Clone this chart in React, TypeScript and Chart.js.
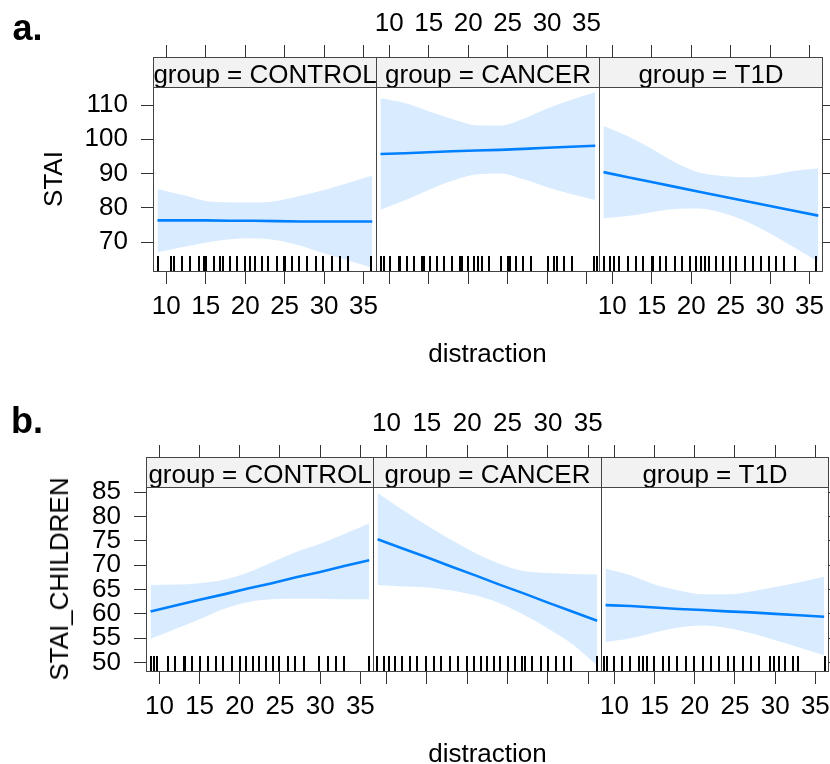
import React, { useEffect, useRef } from "react";
import { Chart, registerables } from "chart.js";

Chart.register(...registerables);

// ---------------- data ----------------
const GROUPS = ["CONTROL", "CANCER", "T1D"];
const X_TICKS = [10, 15, 20, 25, 30, 35];
const X_LIMITS = [8.33, 36.7];
const STAI_TICKS = [70, 80, 90, 100, 110];
const STAI_LIMITS = [61.24, 115.26];
const CHILD_TICKS = [50, 55, 60, 65, 70, 75, 80, 85];
const CHILD_LIMITS = [48.07, 86.03];

// distraction values at which the effect curves are evaluated
const DISTRACTION = [8.9, 12, 15, 18, 21, 24, 27, 30, 33, 36.1];

// a. STAI
const staiControlFit = [76.3, 76.3, 76.3, 76.2, 76.2, 76.1, 76.0, 76.0, 76.0, 76.0];
const staiControlLower = [67.0, 68.5, 69.8, 70.8, 71.1, 70.5, 68.9, 66.7, 64.6, 62.5];
const staiControlUpper = [85.5, 83.8, 82.0, 81.6, 81.5, 82.0, 83.5, 85.2, 87.2, 89.4];

const staiCancerFit = [95.7, 95.9, 96.2, 96.5, 96.7, 96.9, 97.2, 97.5, 97.8, 98.1];
const staiCancerLower = [79.4, 82.2, 85.2, 87.9, 89.7, 90.0, 88.3, 86.0, 84.0, 82.3];
const staiCancerUpper = [112.0, 110.6, 108.2, 105.9, 104.1, 104.0, 106.0, 109.0, 111.5, 113.7];

const staiT1dFit = [90.4, 88.9, 87.5, 86.1, 84.7, 83.3, 81.9, 80.5, 79.1, 77.7];
const staiT1dLower = [76.9, 77.6, 78.7, 79.6, 79.8, 78.5, 76.0, 72.5, 68.5, 64.2];
const staiT1dUpper = [103.9, 100.9, 97.2, 93.2, 90.3, 89.3, 88.9, 89.5, 90.7, 91.5];

// b. STAI_CHILDREN
const childControlFit = [60.5, 61.7, 62.9, 64.0, 65.2, 66.3, 67.5, 68.6, 69.8, 71.0];
const childControlLower = [54.9, 56.9, 58.9, 61.0, 62.4, 63.0, 63.1, 63.1, 63.0, 63.0];
const childControlUpper = [65.9, 66.0, 66.3, 67.0, 68.5, 70.6, 72.7, 74.4, 76.4, 78.6];

const childCancerFit = [75.3, 73.4, 71.6, 69.7, 67.9, 66.0, 64.2, 62.3, 60.5, 58.6];
const childCancerLower = [65.9, 65.6, 65.4, 64.8, 63.8, 62.2, 59.8, 57.0, 53.8, 49.4];
const childCancerUpper = [84.8, 81.3, 78.2, 75.2, 72.5, 70.3, 68.8, 68.4, 68.2, 68.1];

const childT1dFit = [61.8, 61.6, 61.3, 61.0, 60.8, 60.5, 60.3, 60.0, 59.7, 59.4];
const childT1dLower = [54.2, 55.0, 56.2, 57.2, 57.6, 57.1, 56.0, 54.6, 53.1, 51.5];
const childT1dUpper = [69.3, 67.9, 66.0, 64.8, 64.0, 64.0, 64.6, 65.5, 66.5, 67.6];

// rug (observed distraction values)
const rugStaiControl = [8.9, 10.6, 11, 12, 13, 14.1, 14.8, 15, 16, 16.8, 17.2, 18.1, 19, 20, 20.6, 21.3, 22.1, 22.9, 24, 24.9, 25.1, 25.9, 26.8, 27.8, 29, 29.9, 31, 32, 33, 36];
const rugStaiCancer = [9, 9.4, 10.1, 11.2, 11.4, 12.2, 13.1, 14.2, 14.4, 15.2, 16, 17, 18, 19, 19.2, 20, 20.8, 21.3, 21.7, 22.7, 24.2, 25, 25.3, 26.1, 26.9, 28, 30.1, 30.9, 31.3, 32.2, 33.2, 36, 36.3];
const rugStaiT1d = [8.9, 9.7, 10.2, 10.9, 12, 13, 13.9, 15, 15.2, 16, 16.8, 17.9, 18.9, 19.8, 20.6, 21.3, 21.8, 22.3, 23.2, 24, 24.9, 25.7, 26.8, 27.8, 28.9, 29.9, 30.8, 31.8, 33.1, 35.8];
const rugChildControl = [8.9, 9.3, 9.7, 11.1, 11.9, 13, 13.2, 14, 15, 16.1, 17.1, 17.9, 19, 20, 20.8, 21.6, 22.4, 23.3, 24.1, 24.9, 26, 26.9, 28, 29.9, 31, 32, 33, 36.1];
const rugChildCancer = [8.8, 9.7, 10.3, 11.1, 11.9, 12.9, 13.8, 14.9, 15.9, 16.8, 17.9, 18.8, 20, 20.9, 21.7, 22.5, 23.3, 24.1, 25, 25.9, 26.8, 27.2, 28, 29.1, 30, 31, 32, 32.8, 36.1];
const rugChildT1d = [8.75, 9.1, 9.9, 11, 12, 13, 13.5, 14.1, 14.9, 16, 16.8, 17.8, 18.9, 19.9, 21, 22, 23, 24.1, 24.9, 26, 27, 28, 29.3, 29.9, 30.5, 31.2, 32.2, 32.8, 36.2];

// ---------------- style / layout ----------------
const FONT = '"Liberation Sans", Arial, Helvetica, sans-serif';
const FS = 26;
const LINE_BLUE = "#0080ff";
const BAND = "rgba(0,128,255,0.15)";
const STRIP_BG = "#f2f2f2";
const FRAME = "#444444";
const TICK = "#333333";
const STRIP_H = 30;
const PLOT_H = 185;
const TOP_H = 57;
const BOTTOM_H = 58;
const RUG_H = 16;

const panelDecor = {
  id: "panelDecor",
  afterDatasetsDraw(chart: any, _args: any, opts: any) {
    const { ctx, chartArea: a, scales } = chart;
    const xs = scales.x;
    const ys = scales.y;
    const stripBottom = Math.round(ys.getPixelForValue(opts.dataTop));
    // rug
    ctx.save();
    ctx.strokeStyle = "#000";
    ctx.lineWidth = 2;
    ctx.beginPath();
    for (const v of opts.rug as number[]) {
      const px = Math.round(xs.getPixelForValue(v));
      ctx.moveTo(px, a.bottom);
      ctx.lineTo(px, a.bottom - RUG_H);
    }
    ctx.stroke();
    ctx.restore();
    // strip
    ctx.save();
    ctx.fillStyle = STRIP_BG;
    ctx.fillRect(a.left, a.top, a.right - a.left, stripBottom - a.top);
    ctx.beginPath();
    ctx.rect(a.left, a.top, a.right - a.left, stripBottom - a.top);
    ctx.clip();
    ctx.fillStyle = "#000";
    ctx.font = `${FS}px ${FONT}`;
    ctx.textAlign = "center";
    ctx.textBaseline = "alphabetic";
    ctx.fillText(opts.label, (a.left + a.right) / 2, stripBottom - 3.7);
    ctx.restore();
    // frame
    ctx.save();
    ctx.strokeStyle = FRAME;
    ctx.lineWidth = 1;
    ctx.strokeRect(a.left + 0.5, a.top + 0.5, a.right - a.left - 1, a.bottom - a.top - 1);
    ctx.beginPath();
    ctx.moveTo(a.left, stripBottom + 0.5);
    ctx.lineTo(a.right, stripBottom + 0.5);
    ctx.stroke();
    ctx.restore();
  },
};

type PanelProps = {
  label: string;
  rug: number[];
  fit: number[];
  lower: number[];
  upper: number[];
  yTicks: number[];
  yLimits: number[];
  left: number;
  top: number;
  width: number;
  L: number;
  R: number;
  topLabels: boolean;
  bottomLabels: boolean;
};

function makeConfig(p: PanelProps): any {
  const [yMin, yMax] = p.yLimits;
  const yTop = yMax + ((yMax - yMin) * STRIP_H) / PLOT_H;
  const pts = (ys: number[]) => DISTRACTION.map((x, i) => ({ x, y: ys[i] }));
  const tickFont = { family: FONT, size: FS };
  const setTicks = (vals: number[]) => (s: any) => {
    s.ticks = vals.map((v) => ({ value: v }));
  };
  const xAxis = (pos: string, show: boolean, pad: number, h: number) => ({
    type: "linear",
    position: pos,
    min: X_LIMITS[0],
    max: X_LIMITS[1],
    afterBuildTicks: setTicks(X_TICKS),
    afterFit: (s: any) => {
      s.height = h;
      s.paddingLeft = 0;
      s.paddingRight = 0;
    },
    grid: { drawOnChartArea: false, drawTicks: true, tickLength: 12, color: TICK, lineWidth: 1 },
    border: { display: false },
    ticks: { display: show, color: "#000", font: tickFont, padding: pad, maxRotation: 0, minRotation: 0, autoSkip: false },
  });
  const bandEdge = {
    borderColor: "rgba(0,0,0,0)",
    borderWidth: 0,
    pointRadius: 0,
    cubicInterpolationMode: "monotone",
    xAxisID: "x",
    yAxisID: "y",
  };
  return {
    type: "line",
    data: {
      datasets: [
        { ...bandEdge, data: pts(p.lower), fill: false },
        { ...bandEdge, data: pts(p.upper), fill: "-1", backgroundColor: BAND },
        { data: pts(p.fit), borderColor: LINE_BLUE, borderWidth: 2.6, pointRadius: 0, fill: false, tension: 0, xAxisID: "x", yAxisID: "y" },
      ],
    },
    options: {
      animation: false,
      responsive: false,
      maintainAspectRatio: false,
      devicePixelRatio: 1,
      events: [],
      layout: { padding: 0 },
      plugins: {
        legend: { display: false },
        tooltip: { enabled: false },
        panelDecor: { label: p.label, rug: p.rug, dataTop: yMax },
      },
      scales: {
        x: xAxis("bottom", p.bottomLabels, 7.6, BOTTOM_H),
        x2: xAxis("top", p.topLabels, 5.2, TOP_H),
        y: {
          type: "linear",
          position: "left",
          display: p.L > 0,
          min: yMin,
          max: yTop,
          afterBuildTicks: setTicks(p.yTicks),
          afterFit: (s: any) => {
            s.width = p.L;
            s.paddingTop = 0;
            s.paddingBottom = 0;
          },
          grid: { drawOnChartArea: false, drawTicks: true, tickLength: 12, color: TICK, lineWidth: 1 },
          border: { display: false },
          ticks: { color: "#000", font: tickFont, padding: 13, autoSkip: false },
        },
        y2: {
          type: "linear",
          position: "right",
          display: p.R > 0,
          min: yMin,
          max: yTop,
          afterBuildTicks: setTicks(p.yTicks),
          afterFit: (s: any) => {
            s.width = p.R;
            s.paddingTop = 0;
            s.paddingBottom = 0;
          },
          grid: { drawOnChartArea: false, drawTicks: true, tickLength: 10, color: TICK, lineWidth: 1 },
          border: { display: false },
          ticks: { display: false },
        },
      },
    },
    plugins: [panelDecor],
  };
}

function Panel(p: PanelProps) {
  const ref = useRef<HTMLCanvasElement>(null);
  const height = TOP_H + STRIP_H + PLOT_H + BOTTOM_H;
  useEffect(() => {
    const chart = new Chart(ref.current as HTMLCanvasElement, makeConfig(p));
    return () => chart.destroy();
  }, []);
  return (
    <canvas
      ref={ref}
      width={p.width}
      height={height}
      style={{ position: "absolute", left: p.left, top: p.top, width: p.width, height }}
    />
  );
}

const ROWS = [
  {
    top: 0,
    lefts: [0, 376, 599],
    widths: [377, 224, 231],
    L: [153, 0, 0],
    R: [0, 0, 7],
    yTicks: STAI_TICKS,
    yLimits: STAI_LIMITS,
    series: [
      { fit: staiControlFit, lower: staiControlLower, upper: staiControlUpper, rug: rugStaiControl },
      { fit: staiCancerFit, lower: staiCancerLower, upper: staiCancerUpper, rug: rugStaiCancer },
      { fit: staiT1dFit, lower: staiT1dLower, upper: staiT1dUpper, rug: rugStaiT1d },
    ],
  },
  {
    top: 400,
    lefts: [0, 373, 601],
    widths: [374, 229, 229],
    L: [146, 0, 0],
    R: [0, 0, 1],
    yTicks: CHILD_TICKS,
    yLimits: CHILD_LIMITS,
    series: [
      { fit: childControlFit, lower: childControlLower, upper: childControlUpper, rug: rugChildControl },
      { fit: childCancerFit, lower: childCancerLower, upper: childCancerUpper, rug: rugChildCancer },
      { fit: childT1dFit, lower: childT1dLower, upper: childT1dUpper, rug: rugChildT1d },
    ],
  },
];

const textBase: React.CSSProperties = {
  position: "absolute",
  fontFamily: FONT,
  fontSize: FS,
  lineHeight: `${FS}px`,
  color: "#000",
  whiteSpace: "nowrap",
};

function CenteredText({ x, y, rotate, children }: { x: number; y: number; rotate?: boolean; children: React.ReactNode }) {
  return (
    <div
      style={{
        ...textBase,
        left: x,
        top: y,
        transform: `translate(-50%, -50%)${rotate ? " rotate(-90deg)" : ""}`,
      }}
    >
      {children}
    </div>
  );
}

const tagStyle: React.CSSProperties = {
  position: "absolute",
  fontFamily: '"Liberation Sans Narrow", "Arial Narrow", "Liberation Sans", Arial, sans-serif',
  fontWeight: "bold",
  fontSize: 36,
  lineHeight: "36px",
  color: "#000",
};

export default function App() {
  return (
    <div style={{ position: "absolute", left: 0, top: 0, width: 830, height: 764, background: "#fff", overflow: "hidden" }}>
      {ROWS.map((row, r) =>
        GROUPS.map((g, i) => (
          <Panel
            key={`${r}-${g}`}
            label={`group = ${g}`}
            rug={row.series[i].rug}
            fit={row.series[i].fit}
            lower={row.series[i].lower}
            upper={row.series[i].upper}
            yTicks={row.yTicks}
            yLimits={row.yLimits}
            left={row.lefts[i]}
            top={row.top}
            width={row.widths[i]}
            L={row.L[i]}
            R={row.R[i]}
            topLabels={i === 1}
            bottomLabels={i !== 1}
          />
        ))
      )}
      <div style={{ ...tagStyle, left: 12.5, top: 9.5 }}>a.</div>
      <div style={{ ...tagStyle, left: 11, top: 402.8 }}>b.</div>
      <CenteredText x={53.3} y={179.2} rotate>STAI</CenteredText>
      <CenteredText x={59.3} y={579} rotate>STAI_CHILDREN</CenteredText>
      <CenteredText x={487.5} y={352.5}>distraction</CenteredText>
      <CenteredText x={487.5} y={752.5}>distraction</CenteredText>
    </div>
  );
}
